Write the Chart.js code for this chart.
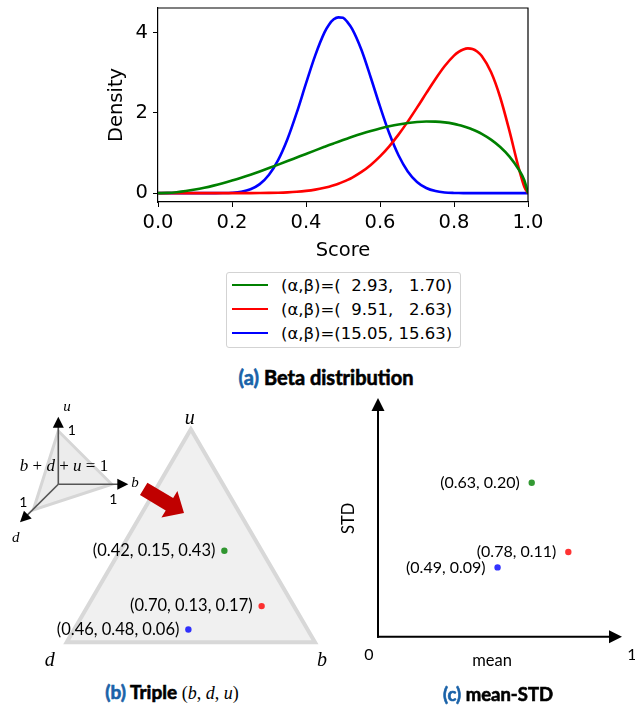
<!DOCTYPE html>
<html lang="en">
<head>
  <meta charset="UTF-8">
  <title>Beta distribution / Triple / mean-STD</title>
  <script src="https://cdn.jsdelivr.net/npm/chart.js"></script>
  <style>
    body {
      margin: 0;
      background: #fff;
    }

    #wrap {
      position: relative;
      width: 635px;
      height: 708px;
      overflow: hidden;
    }

    canvas {
      position: absolute;
    }

    #legend {
      position: absolute;
      left: 226px;
      top: 272px;
      width: 233px;
      height: 74px;
      border: 1px solid #d3d3d3;
      border-radius: 3px;
      font-family: "DejaVu Sans", sans-serif;
      font-size: 16.5px;
      color: #000;
    }

    .legend-row {
      display: flex;
      align-items: center;
      height: 24px;
      white-space: pre;
    }

    .legend-row .swatch {
      width: 36px;
      height: 2.5px;
      margin-left: 5px;
      margin-right: 13px;
    }

    .cap {
      position: absolute;
      transform: translate(-50%, -50%);
      white-space: nowrap;
      font-family: Lato, sans-serif;
      font-weight: 700;
      font-size: 19px;
      color: #000;
      -webkit-text-stroke: 0.6px;
    }

    .cap .tag {
      color: #1a62a8;
    }

    .cap .math {
      font-family: "Liberation Serif", serif;
      font-weight: normal;
      font-size: 18px;
      -webkit-text-stroke: 0;
    }
  </style>
</head>
<body>

<div id="wrap">
  <canvas id="betaChart" width="560" height="262" style="left:0;top:0"></canvas>
  <div id="legend"></div>
  <div class="cap" style="left:326px;top:377px;font-size:20px"><span class="tag">(a)</span> Beta distribution</div>

  <canvas id="tripleChart" width="335" height="290" style="left:0;top:390px"></canvas>
  <canvas id="meanStdChart" width="305" height="290" style="left:330px;top:390px"></canvas>

  <div class="cap" style="left:172px;top:692px"><span class="tag">(b)</span> Triple <span class="math">(<i>b</i>, <i>d</i>, <i>u</i>)</span></div>
  <div class="cap" style="left:498px;top:694px;font-size:18.5px"><span class="tag">(c)</span> mean-STD</div>
</div>

<script>
  // ---- data ----
  const scoreX = [0, 0.025, 0.05, 0.075, 0.1, 0.125, 0.15, 0.175, 0.2, 0.225, 0.25, 0.275, 0.3, 0.325,
    0.35, 0.375, 0.4, 0.425, 0.45, 0.4625, 0.475, 0.4875, 0.5, 0.5125, 0.525, 0.55, 0.575, 0.6, 0.625,
    0.65, 0.675, 0.7, 0.725, 0.75, 0.775, 0.8, 0.8125, 0.825, 0.8375, 0.85, 0.8625, 0.875, 0.9, 0.925,
    0.95, 0.975, 0.99, 1];

  const densityGreen = [0, 0.0065, 0.0244, 0.0523, 0.0893, 0.1348, 0.1879, 0.2476, 0.3137, 0.3849,
    0.4610, 0.5414, 0.6246, 0.7108, 0.7986, 0.8879, 0.9772, 1.0661, 1.1541, 1.1976, 1.2400, 1.2819,
    1.3231, 1.3632, 1.4025, 1.4773, 1.5464, 1.6092, 1.6640, 1.7104, 1.7465, 1.7713, 1.7837, 1.7811,
    1.7627, 1.7256, 1.6997, 1.6679, 1.6304, 1.5861, 1.5354, 1.4767, 1.3333, 1.1491, 0.9110, 0.5896,
    0.3198, 0];

  const densityRed = [0, 0, 0, 0, 0, 0, 0, 0, 0.0003, 0.0007, 0.0015, 0.0032, 0.0062, 0.0116, 0.0206,
    0.0347, 0.0563, 0.0880, 0.1333, 0.1618, 0.1959, 0.2344, 0.2800, 0.3310, 0.3897, 0.5302, 0.7040,
    0.9163, 1.167, 1.457, 1.781, 2.129, 2.490, 2.844, 3.166, 3.425, 3.517, 3.578, 3.604, 3.590, 3.527,
    3.413, 3.015, 2.382, 1.543, 0.622, 0.159, 0];

  const densityBlue = [0, 0, 0, 0, 0, 0, 0.0005, 0.0026, 0.0108, 0.0356, 0.0969, 0.2249, 0.4570,
    0.8280, 1.349, 2.004, 2.732, 3.431, 4.003, 4.202, 4.328, 4.377, 4.367, 4.252, 4.084, 3.563, 2.880,
    2.159, 1.490, 0.943, 0.542, 0.280, 0.128, 0.0512, 0.0174, 0.0049, 0.0026, 0.0011, 0.0005, 0.0002,
    0, 0, 0, 0, 0, 0, 0, 0];

  const alphas = [2.93, 9.51, 15.05];
  const betas = [1.70, 2.63, 15.63];
  const lineColors = ['#008000', '#ff0000', '#0000ff'];
  const dotColors = ['rgba(0,128,0,0.8)', 'rgba(255,0,0,0.8)', 'rgba(0,0,255,0.8)'];

  const scoreTicks = [0, 0.2, 0.4, 0.6, 0.8, 1.0];
  const densityTicks = [0, 2, 4];

  // triple (b, d, u)
  const tripleB = [0.42, 0.70, 0.46];
  const tripleD = [0.15, 0.13, 0.48];
  const tripleU = [0.43, 0.17, 0.06];

  // mean / STD
  const means = [0.63, 0.78, 0.49];
  const stds = [0.20, 0.11, 0.09];
  const meanTicks = ['0', '1'];

  // ---- (a) beta densities ----
  const densities = [densityGreen, densityRed, densityBlue];
  const tickFont = { family: 'DejaVu Sans', size: 19.5 };

  const frame = {
    id: 'frame',
    afterDraw(chart) {
      const { ctx, chartArea: a } = chart;
      ctx.save();
      ctx.strokeStyle = '#000';
      ctx.lineWidth = 1.2;
      ctx.beginPath();
      ctx.moveTo(a.left, a.top);
      ctx.lineTo(a.right, a.top);
      ctx.lineTo(a.right, a.bottom);
      ctx.stroke();
      ctx.restore();
    }
  };

  new Chart(document.getElementById('betaChart'), {
    type: 'line',
    data: {
      datasets: densities.map((d, i) => ({
        data: d.map((y, j) => ({ x: scoreX[j], y })),
        borderColor: lineColors[i],
        borderWidth: 2.6,
        pointRadius: 0,
        cubicInterpolationMode: 'monotone',
        fill: false
      }))
    },
    options: {
      responsive: false,
      animation: false,
      layout: { padding: { top: 8, right: 32, left: 0, bottom: 0 } },
      plugins: { legend: { display: false }, tooltip: { enabled: false } },
      scales: {
        x: {
          type: 'linear',
          min: 0,
          max: 1,
          afterFit: s => { s.height = 60; s.paddingLeft = 0; s.paddingRight = 0; },
          afterBuildTicks: s => { s.ticks = scoreTicks.map(v => ({ value: v })); },
          ticks: { callback: v => v.toFixed(1), font: tickFont, color: '#000', padding: 4, maxRotation: 0, autoSkip: false },
          grid: { drawOnChartArea: false, tickLength: 5, color: '#000', tickColor: '#000' },
          border: { color: '#000', width: 1.2 },
          title: { display: true, text: 'Score', font: tickFont, color: '#000', padding: { top: 0, bottom: -1 } }
        },
        y: {
          type: 'linear',
          min: -0.22,
          max: 4.61,
          afterFit: s => { s.width = 158; s.paddingTop = 0; s.paddingBottom = 0; },
          afterBuildTicks: s => { s.ticks = densityTicks.map(v => ({ value: v })); },
          ticks: { callback: v => String(v), font: tickFont, color: '#000', padding: 5, autoSkip: false },
          grid: { drawOnChartArea: false, tickLength: 5, color: '#000', tickColor: '#000' },
          border: { color: '#000', width: 1.2 },
          title: { display: true, text: 'Density', font: tickFont, color: '#000', padding: { top: 105, bottom: 0 } }
        }
      }
    },
    plugins: [frame]
  });

  // legend box (two spaces stand in for one missing digit)
  const pad = v => {
    const s = v.toFixed(2);
    return ' '.repeat(2 * (5 - s.length)) + s;
  };
  const legend = document.getElementById('legend');
  alphas.forEach((a, i) => {
    const row = document.createElement('div');
    row.className = 'legend-row';
    const sw = document.createElement('span');
    sw.className = 'swatch';
    sw.style.background = lineColors[i];
    const txt = document.createElement('span');
    txt.textContent = `(α,β)=(${pad(a)}, ${pad(betas[i])})`;
    row.appendChild(sw);
    row.appendChild(txt);
    legend.appendChild(row);
  });

  // ---- shared drawing helpers ----
  function arrowLine(ctx, x1, y1, x2, y2, head, half, lineColor, lineWidth) {
    const ang = Math.atan2(y2 - y1, x2 - x1);
    ctx.save();
    ctx.strokeStyle = lineColor;
    ctx.lineWidth = lineWidth;
    ctx.beginPath();
    ctx.moveTo(x1, y1);
    ctx.lineTo(x2 - Math.cos(ang) * head * 0.8, y2 - Math.sin(ang) * head * 0.8);
    ctx.stroke();
    ctx.translate(x2, y2);
    ctx.rotate(ang);
    ctx.fillStyle = '#000';
    ctx.beginPath();
    ctx.moveTo(0, 0);
    ctx.lineTo(-head, -half);
    ctx.lineTo(-head, half);
    ctx.closePath();
    ctx.fill();
    ctx.restore();
  }

  // draw text pieces [text, italic] centred at x
  function mathText(ctx, pieces, cx, cy, size) {
    const fontOf = it => (it ? 'italic ' : '') + size + 'px "Liberation Serif", serif';
    let total = 0;
    pieces.forEach(p => { ctx.font = fontOf(p[1]); total += ctx.measureText(p[0]).width; });
    let x = cx - total / 2;
    ctx.textAlign = 'left';
    ctx.textBaseline = 'middle';
    pieces.forEach(p => {
      ctx.font = fontOf(p[1]);
      ctx.fillText(p[0], x, cy);
      x += ctx.measureText(p[0]).width;
    });
  }

  function pointLabels(chart, texts, gap, font) {
    const { ctx } = chart;
    ctx.save();
    ctx.font = font;
    ctx.fillStyle = '#000';
    ctx.textAlign = 'right';
    ctx.textBaseline = 'middle';
    chart.data.datasets.forEach((ds, i) => {
      const el = chart.getDatasetMeta(i).data[0];
      ctx.fillText(texts[i], el.x - gap, el.y);
    });
    ctx.restore();
  }

  // ---- (b) ternary triple ----
  const ternaryDecor = {
    id: 'ternaryDecor',
    beforeDatasetsDraw(chart) {
      const { ctx, scales: { x, y } } = chart;
      const verts = [[0, 0], [1, 0], [0.5, 1]];
      ctx.save();
      ctx.beginPath();
      verts.forEach((v, i) => {
        const px = x.getPixelForValue(v[0]), py = y.getPixelForValue(v[1]);
        if (i === 0) ctx.moveTo(px, py); else ctx.lineTo(px, py);
      });
      ctx.closePath();
      ctx.fillStyle = '#f0f0f0';
      ctx.fill();
      ctx.strokeStyle = '#d8d8d8';
      ctx.lineWidth = 4;
      ctx.lineJoin = 'miter';
      ctx.stroke();

      // vertex labels
      ctx.fillStyle = '#000';
      ctx.textAlign = 'center';
      ctx.textBaseline = 'middle';
      ctx.font = 'italic 20px "Liberation Serif", serif';
      ctx.fillText('u', x.getPixelForValue(0.5) - 1, y.getPixelForValue(1) - 11);
      ctx.fillText('d', x.getPixelForValue(0) - 17, y.getPixelForValue(0) + 18);
      ctx.fillText('b', x.getPixelForValue(1) + 7, y.getPixelForValue(0) + 18);

      // small simplex icon
      const O = [58.3, 94.3], A = [58.3, 41], R = [111.7, 94.3], L = [33.3, 120];
      ctx.beginPath();
      ctx.moveTo(A[0], A[1]);
      ctx.lineTo(R[0], R[1]);
      ctx.lineTo(L[0], L[1]);
      ctx.closePath();
      ctx.fillStyle = 'rgba(200,200,200,0.35)';
      ctx.fill();
      ctx.strokeStyle = '#d6d6d6';
      ctx.lineWidth = 3;
      ctx.stroke();
      arrowLine(ctx, O[0], O[1], 58.3, 26.7, 11, 5.5, '#555', 1.6);
      arrowLine(ctx, O[0], O[1], 128.3, 94.3, 11, 5.5, '#555', 1.6);
      arrowLine(ctx, O[0], O[1], 20, 132.3, 11, 5.5, '#555', 1.6);

      ctx.fillStyle = '#000';
      ctx.font = 'italic 15px "Liberation Serif", serif';
      ctx.fillText('u', 67, 16.7);
      ctx.fillText('b', 135, 93.3);
      ctx.fillText('d', 15.7, 148.3);
      ctx.font = '14px Lato, sans-serif';
      ctx.fillText('1', 71.7, 40);
      ctx.fillText('1', 113.3, 109);
      ctx.fillText('1', 23.3, 112.3);
      mathText(ctx, [['b', true], [' + ', false], ['d', true], [' + ', false], ['u', true], [' = 1', false]], 64, 76.7, 17);

      // red block arrow
      const t0 = [143.7, 98.8], t1 = [184, 123];
      const ang = Math.atan2(t1[1] - t0[1], t1[0] - t0[0]);
      const len = Math.hypot(t1[0] - t0[0], t1[1] - t0[1]);
      ctx.translate(t0[0], t0[1]);
      ctx.rotate(ang);
      ctx.beginPath();
      ctx.moveTo(0, -7.2);
      ctx.lineTo(len - 17, -7.2);
      ctx.lineTo(len - 17, -15.5);
      ctx.lineTo(len, 0);
      ctx.lineTo(len - 17, 15.5);
      ctx.lineTo(len - 17, 7.2);
      ctx.lineTo(0, 7.2);
      ctx.closePath();
      ctx.fillStyle = '#c00000';
      ctx.fill();
      ctx.restore();
    },
    afterDatasetsDraw(chart) {
      const texts = tripleB.map((b, i) => `(${b.toFixed(2)}, ${tripleD[i].toFixed(2)}, ${tripleU[i].toFixed(2)})`);
      pointLabels(chart, texts, 9, '16.5px Lato, sans-serif');
    }
  };

  new Chart(document.getElementById('tripleChart'), {
    type: 'scatter',
    data: {
      datasets: tripleB.map((b, i) => ({
        data: [{ x: b + tripleU[i] / 2, y: tripleU[i] }],
        backgroundColor: dotColors[i],
        borderWidth: 0,
        pointRadius: 3.2
      }))
    },
    options: {
      responsive: false,
      animation: false,
      layout: { padding: { left: 66.7, right: 20, top: 39.3, bottom: 37.7 } },
      plugins: { legend: { display: false }, tooltip: { enabled: false } },
      scales: {
        x: { display: false, min: 0, max: 1 },
        y: { display: false, min: 0, max: 1 }
      }
    },
    plugins: [ternaryDecor]
  });

  // ---- (c) mean vs STD ----
  const meanStdDecor = {
    id: 'meanStdDecor',
    beforeDatasetsDraw(chart) {
      const { ctx, chartArea: a } = chart;
      arrowLine(ctx, a.left, a.bottom + 1, a.left, a.top, 13, 6.5, '#000', 2);
      arrowLine(ctx, a.left - 1, a.bottom, a.right, a.bottom, 13, 6.5, '#000', 2);
      ctx.save();
      ctx.fillStyle = '#000';
      ctx.textAlign = 'center';
      ctx.textBaseline = 'middle';
      ctx.font = '16px Lato, sans-serif';
      ctx.fillText(meanTicks[0], a.left - 9, a.bottom + 18);
      ctx.fillText(meanTicks[1], a.right + 10, a.bottom + 18);
      ctx.font = '16.5px Lato, sans-serif';
      ctx.fillText('mean', (a.left + a.right) / 2 - 8, a.bottom + 24);
      ctx.translate(a.left - 29, (a.top + a.bottom) / 2 + 1);
      ctx.rotate(-Math.PI / 2);
      ctx.fillText('STD', 0, 0);
      ctx.restore();
    },
    afterDatasetsDraw(chart) {
      const texts = means.map((m, i) => `(${m.toFixed(2)}, ${stds[i].toFixed(2)})`);
      pointLabels(chart, texts, 12, '16px Lato, sans-serif');
    }
  };

  new Chart(document.getElementById('meanStdChart'), {
    type: 'scatter',
    data: {
      datasets: means.map((m, i) => ({
        data: [{ x: m, y: stds[i] }],
        backgroundColor: dotColors[i],
        borderWidth: 0,
        pointRadius: 3.2
      }))
    },
    options: {
      responsive: false,
      animation: false,
      layout: { padding: { left: 48, right: 13, top: 8, bottom: 43.3 } },
      plugins: { legend: { display: false }, tooltip: { enabled: false } },
      scales: {
        x: { display: false, min: 0, max: 1 },
        y: { display: false, min: 0, max: 0.31 }
      }
    },
    plugins: [meanStdDecor]
  });
</script>

</body>
</html>
